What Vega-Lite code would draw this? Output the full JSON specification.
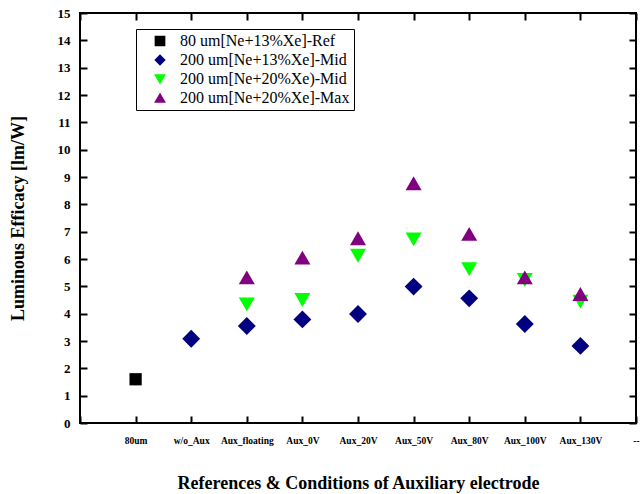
{
  "$schema": "https://vega.github.io/schema/vega-lite/v6.json",
  "width": 556,
  "height": 410,
  "autosize": {"type": "none"},
  "padding": {"left": 80, "top": 13, "right": 4, "bottom": 71},
  "background": "white",
  "config": {
    "view": {"stroke": "black", "strokeWidth": 2},
    "axis": {"grid": false, "domain": false, "labelFont": "Liberation Serif", "titleFont": "Liberation Serif", "labelFontWeight": "bold", "titleFontWeight": "bold", "labelOverlap": false, "labelColor": "black", "titleColor": "black"}
  },
  "data": {
    "values": [
      {"cond": "80um", "series": "80 um[Ne+13%Xe]-Ref", "value": 1.6},
      {"cond": "w/o_Aux", "series": "200 um[Ne+13%Xe]-Mid", "value": 3.08},
      {"cond": "Aux_floating", "series": "200 um[Ne+13%Xe]-Mid", "value": 3.55},
      {"cond": "Aux_0V", "series": "200 um[Ne+13%Xe]-Mid", "value": 3.79},
      {"cond": "Aux_20V", "series": "200 um[Ne+13%Xe]-Mid", "value": 3.99},
      {"cond": "Aux_50V", "series": "200 um[Ne+13%Xe]-Mid", "value": 4.99},
      {"cond": "Aux_80V", "series": "200 um[Ne+13%Xe]-Mid", "value": 4.56},
      {"cond": "Aux_100V", "series": "200 um[Ne+13%Xe]-Mid", "value": 3.62},
      {"cond": "Aux_130V", "series": "200 um[Ne+13%Xe]-Mid", "value": 2.82},
      {"cond": "Aux_floating", "series": "200 um[Ne+20%Xe)-Mid", "value": 4.34},
      {"cond": "Aux_0V", "series": "200 um[Ne+20%Xe)-Mid", "value": 4.5},
      {"cond": "Aux_20V", "series": "200 um[Ne+20%Xe)-Mid", "value": 6.12},
      {"cond": "Aux_50V", "series": "200 um[Ne+20%Xe)-Mid", "value": 6.72},
      {"cond": "Aux_80V", "series": "200 um[Ne+20%Xe)-Mid", "value": 5.63},
      {"cond": "Aux_100V", "series": "200 um[Ne+20%Xe)-Mid", "value": 5.23},
      {"cond": "Aux_130V", "series": "200 um[Ne+20%Xe)-Mid", "value": 4.44},
      {"cond": "Aux_floating", "series": "200 um[Ne+20%Xe]-Max", "value": 5.33},
      {"cond": "Aux_0V", "series": "200 um[Ne+20%Xe]-Max", "value": 6.05},
      {"cond": "Aux_20V", "series": "200 um[Ne+20%Xe]-Max", "value": 6.76},
      {"cond": "Aux_50V", "series": "200 um[Ne+20%Xe]-Max", "value": 8.77},
      {"cond": "Aux_80V", "series": "200 um[Ne+20%Xe]-Max", "value": 6.92},
      {"cond": "Aux_100V", "series": "200 um[Ne+20%Xe]-Max", "value": 5.33},
      {"cond": "Aux_130V", "series": "200 um[Ne+20%Xe]-Max", "value": 4.72}
    ]
  },
  "resolve": {"axis": {"x": "independent", "y": "independent"}},
  "encoding": {
    "x": {
      "field": "cond", "type": "ordinal",
      "scale": {"type": "point", "padding": 0, "domain": [" ", "80um", "w/o_Aux", "Aux_floating", "Aux_0V", "Aux_20V", "Aux_50V", "Aux_80V", "Aux_100V", "Aux_130V", "--"]},
      "axis": null
    },
    "y": {
      "field": "value", "type": "quantitative",
      "scale": {"domain": [0, 15], "nice": false, "zero": true},
      "axis": null
    },
    "color": {
      "field": "series", "type": "nominal",
      "scale": {"domain": ["80 um[Ne+13%Xe]-Ref", "200 um[Ne+13%Xe]-Mid", "200 um[Ne+20%Xe)-Mid", "200 um[Ne+20%Xe]-Max"], "range": ["#000000", "#000080", "#00FF00", "#800080"]},
      "legend": {"title": null, "orient": "none", "legendX": 56, "legendY": 16, "padding": 4, "strokeColor": "black", "fillColor": "white", "labelFont": "Liberation Serif", "labelFontSize": 16, "labelColor": "black", "symbolSize": 85, "symbolOffset": 12, "labelOffset": 12, "rowPadding": 3, "labelLimit": 300}
    },
    "shape": {
      "field": "series", "type": "nominal",
      "scale": {"domain": ["80 um[Ne+13%Xe]-Ref", "200 um[Ne+13%Xe]-Mid", "200 um[Ne+20%Xe)-Mid", "200 um[Ne+20%Xe]-Max"], "range": ["square", "diamond", "triangle-down", "triangle-up"]}
    }
  },
  "layer": [
    {
      "transform": [{"filter": "datum.series === '80 um[Ne+13%Xe]-Ref'"}],
      "mark": {"type": "point", "filled": true, "opacity": 1, "size": 150},
      "encoding": {
        "x": {"field": "cond", "type": "ordinal",
          "axis": {"title": "References & Conditions of Auxiliary electrode", "titleFontSize": 18, "titlePadding": 30, "labelFontSize": 9.5, "labelAngle": 0, "ticks": true, "tickBand": "center", "tickOpacity": 1, "tickSize": -7, "tickColor": "black", "tickWidth": 2, "labelPadding": 19}},
        "y": {"field": "value", "type": "quantitative",
          "axis": {"title": "Luminous Efficacy [lm/W]", "titleFontSize": 18, "titlePadding": 30, "labelFontSize": 13, "values": [0,1,2,3,4,5,6,7,8,9,10,11,12,13,14,15], "tickSize": -7, "tickColor": "black", "tickWidth": 2, "labelPadding": 17}}
      }
    },
    {
      "transform": [{"filter": "datum.series === '200 um[Ne+13%Xe]-Mid'"}],
      "mark": {"type": "point", "filled": true, "opacity": 1, "size": 320}
    },
    {
      "transform": [{"filter": "datum.series === '200 um[Ne+20%Xe)-Mid'"}],
      "mark": {"type": "point", "filled": true, "opacity": 1, "size": 256}
    },
    {
      "transform": [{"filter": "datum.series === '200 um[Ne+20%Xe]-Max'"}],
      "mark": {"type": "point", "filled": true, "opacity": 1, "size": 256}
    },
    {
      "mark": {"type": "point", "opacity": 0},
      "encoding": {
        "x": {"field": "cond", "type": "ordinal", "axis": {"orient": "top", "title": null, "labels": false, "ticks": true, "tickBand": "center", "tickOpacity": 1, "tickSize": -7, "tickColor": "black", "tickWidth": 2}},
        "y": {"field": "value", "type": "quantitative", "axis": {"orient": "right", "title": null, "labels": false, "values": [0,1,2,3,4,5,6,7,8,9,10,11,12,13,14,15], "tickSize": -7, "tickColor": "black", "tickWidth": 2}}
      }
    }
  ]
}
